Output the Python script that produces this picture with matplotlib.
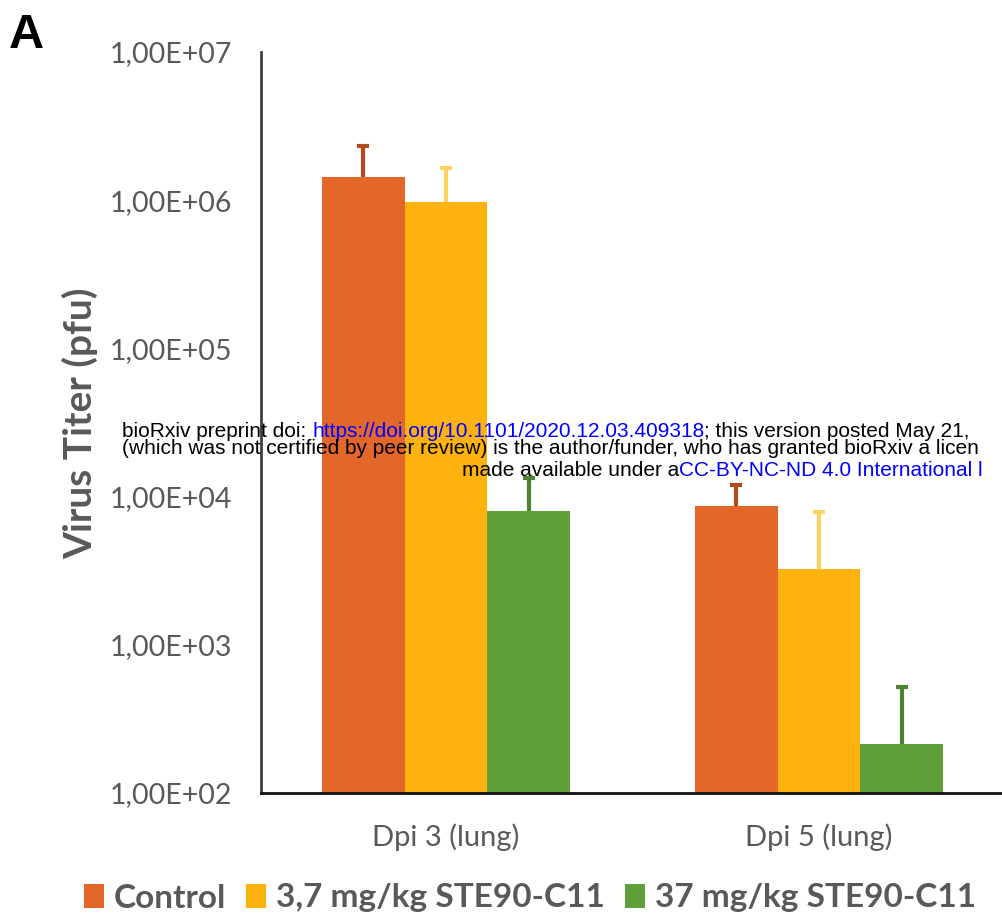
import numpy as np
import matplotlib
matplotlib.use("Agg")
import matplotlib.pyplot as plt
from matplotlib.patches import Patch

# Virus titers (pfu) in lung, mean and upper error
categories = ["Dpi 3 (lung)", "Dpi 5 (lung)"]
series_names = ["Control", "3,7 mg/kg STE90-C11", "37 mg/kg STE90-C11"]
control = [1.43e6, 8.7e3]
low_dose = [9.7e5, 3.27e3]
high_dose = [8.0e3, 214]
control_err = [0.89e6, 3.2e3]
low_dose_err = [0.67e6, 4.6e3]
high_dose_err = [5.4e3, 306]
ytick_labels = ["1,00E+02", "1,00E+03", "1,00E+04", "1,00E+05", "1,00E+06", "1,00E+07"]

colors = ["#E4672A", "#FDB20D", "#5FA138"]
err_colors = ["#B24A1E", "#FFD25E", "#4B8130"]
grey = "#595959"

W, H = 1003, 923
fig = plt.figure(figsize=(W / 100, H / 100), dpi=100)
ax = fig.add_axes([261 / W, 1 - 793 / H, (1003 - 261) / W, (793 - 52) / H])

x = np.arange(len(categories))
width = 0.222
values = [control, low_dose, high_dose]
errs = [control_err, low_dose_err, high_dose_err]
for i, (vals, e) in enumerate(zip(values, errs)):
    pos = x + (i - 1) * width
    ax.bar(pos, vals, width=width, color=colors[i], zorder=2)
    _, caps, _ = ax.errorbar(pos, vals, yerr=[np.zeros(len(e)), e], fmt="none",
                             ecolor=err_colors[i], elinewidth=3, capsize=4.5,
                             capthick=3, zorder=3)
    # upper-only error bars: hide the cap sitting on the bar top
    caps[0].set_visible(False)

ax.set_yscale("log")
ax.set_ylim(1e2, 1e7)
ax.set_xlim(-0.496, 1.493)
ax.set_yticks([10.0 ** k for k in range(2, 8)])
ax.set_yticklabels(ytick_labels)
ax.minorticks_off()
ax.set_xticks(x)
ax.set_xticklabels(categories)
ax.tick_params(axis="y", length=0, pad=21, labelsize=20.5, labelcolor=grey)
ax.tick_params(axis="x", length=0, pad=22, labelsize=21, labelcolor=grey)
for lab in ax.get_xticklabels() + ax.get_yticklabels():
    lab.set_family("Lato")

for s in ["top", "right"]:
    ax.spines[s].set_visible(False)
ax.spines["left"].set_color("#404040")
ax.spines["left"].set_linewidth(2)
ax.spines["bottom"].set_color("#111111")
ax.spines["bottom"].set_linewidth(2)

fig.text(80 / W, 1 - 423 / H, "Virus Titer (pfu)", rotation=90, ha="center", va="center",
         fontsize=28, fontweight="bold", color=grey, family="Lato")

fig.text(9 / W, 1 - 35 / H, "A", ha="left", va="center", fontsize=35,
         fontweight="bold", color="black", family="Liberation Sans")

handles = [Patch(facecolor=c, edgecolor="none") for c in colors]
leg = fig.legend(handles, series_names, loc="center", bbox_to_anchor=(530 / W, 1 - 898 / H),
                 ncol=3, frameon=False, handlelength=0.6, handleheight=0.7,
                 handletextpad=0.3, columnspacing=0.6,
                 prop={"family": "Lato", "weight": "bold", "size": 24})
for t in leg.get_texts():
    t.set_color(grey)

# preprint notice overlay
fs = 15
line1 = [("bioRxiv preprint doi: ", "black"),
         ("https://doi.org/10.1101/2020.12.03.409318", "blue"),
         ("; this version posted May 21,", "black")]
line2 = [("(which was not certified by peer review) is the author/funder, who has granted bioRxiv a licen", "black")]
line3 = [("made available under a", "black"),
         ("CC-BY-NC-ND 4.0 International l", "blue")]

fig.canvas.draw()
renderer = fig.canvas.get_renderer()


def write_line(parts, x0, ypix):
    xpix = x0
    for txt, col in parts:
        t = fig.text(xpix / W, 1 - ypix / H, txt, ha="left", va="center",
                     fontsize=fs, family="Liberation Sans", color=col, zorder=10)
        bb = t.get_window_extent(renderer=renderer)
        xpix += bb.width


write_line(line1, 122, 431)
write_line(line2, 122, 448)
write_line(line3, 462, 470)

fig.savefig("out.png", dpi=100)
